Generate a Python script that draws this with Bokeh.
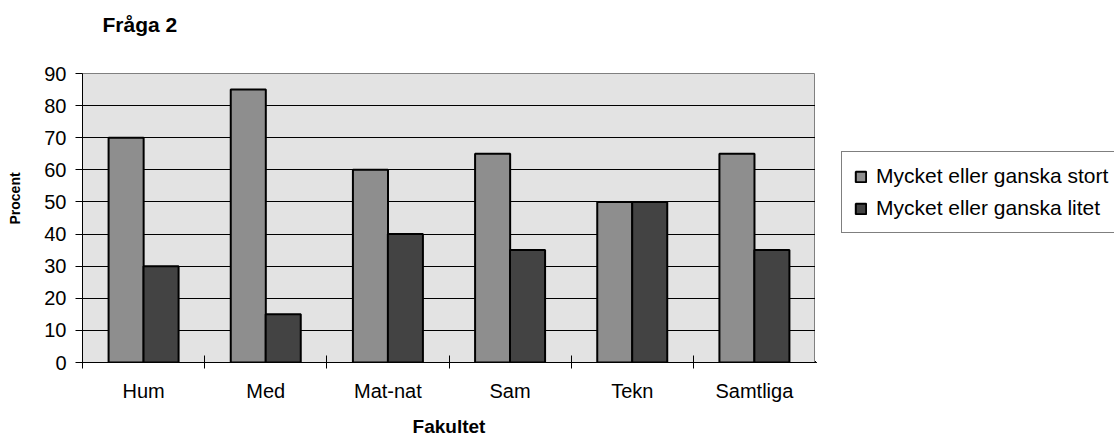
import math
import numpy as np
from bokeh.plotting import figure
from bokeh.layouts import row
from bokeh.models import (Range1d, FixedTicker, Legend, LegendItem, Title, ColumnDataSource)
from bokeh.embed import file_html
from bokeh.resources import INLINE

# ---- data ----
categories = ["Hum", "Med", "Mat-nat", "Sam", "Tekn", "Samtliga"]
stort = [70, 85, 60, 65, 50, 65]
litet = [30, 15, 40, 35, 50, 35]
y_ticks = [0, 10, 20, 30, 40, 50, 60, 70, 80, 90]
series_names = ["Mycket eller ganska stort", "Mycket eller ganska litet"]
series_colors = ["#8e8e8e", "#434343"]
title_text = "Fråga 2"
x_title = "Fakultet"
y_title = "Procent"

FONT = "Liberation Sans"
BAR_W = 0.287
OFF = 0.143

idx = np.arange(len(categories))
src = ColumnDataSource(dict(
    x1=idx + 0.5 - OFF,
    x2=idx + 0.5 + OFF,
    stort=stort,
    litet=litet,
))

p = figure(width=815, height=440, output_backend="svg", toolbar_location=None,
           x_range=Range1d(0, len(categories)), y_range=Range1d(0, 90),
           min_border_left=82, min_border_right=0, min_border_top=73, min_border_bottom=78)

p.background_fill_color = "#e3e3e3"
p.border_fill_color = "white"
p.outline_line_color = "#808080"
p.outline_line_width = 1

r1 = p.vbar(x="x1", top="stort", bottom=0, width=BAR_W, source=src,
            fill_color=series_colors[0], line_color="black", line_width=2)
r2 = p.vbar(x="x2", top="litet", bottom=0, width=BAR_W, source=src,
            fill_color=series_colors[1], line_color="black", line_width=2)

# title (trailing newline lifts the text away from the plot area)
p.title.text = title_text + "\n"
p.title.text_font = FONT
p.title.text_font_size = "21px"
p.title.text_font_style = "bold"
p.title.text_color = "black"
p.title.text_line_height = 1.25
p.title.align = "left"
p.title.offset = 20
p.title.standoff = 18

# x axis
xa = p.xaxis[0]
xa.ticker = FixedTicker(ticks=list(idx + 0.5), minor_ticks=list(range(len(categories) + 1)))
xa.major_label_overrides = {float(i + 0.5): c for i, c in enumerate(categories)}
xa.major_tick_line_color = None
xa.major_tick_in = 0
xa.major_tick_out = 0
xa.minor_tick_line_color = "black"
xa.minor_tick_in = 7
xa.minor_tick_out = 6
xa.axis_line_color = "black"
xa.major_label_text_font = FONT
xa.major_label_text_font_size = "20px"
xa.major_label_text_color = "black"
xa.major_label_standoff = 11
xa.axis_label = x_title
xa.axis_label_text_font = FONT
xa.axis_label_text_font_size = "19px"
xa.axis_label_text_font_style = "bold"
xa.axis_label_text_color = "black"
xa.axis_label_standoff = 11

# y axis
ya = p.yaxis[0]
ya.ticker = FixedTicker(ticks=y_ticks)
ya.minor_tick_line_color = None
ya.major_tick_in = 0
ya.major_tick_out = 7
ya.major_tick_line_color = "black"
ya.axis_line_color = "black"
ya.major_label_text_font = FONT
ya.major_label_text_font_size = "20px"
ya.major_label_text_color = "black"
ya.major_label_standoff = 9

p.xgrid.grid_line_color = None
p.ygrid.ticker = FixedTicker(ticks=y_ticks)
p.ygrid.grid_line_color = "black"
p.ygrid.grid_line_width = 1

# y axis title as a side title, positioned along the axis
ytitle = Title(text=y_title + "\n", align="left", offset=138, standoff=6,
               text_font=FONT, text_font_size="14px", text_font_style="bold",
               text_color="black")
p.add_layout(ytitle, "left")

# legend panel to the right (its frame is aligned with the chart's frame)
q = figure(width=299, height=440, output_backend="svg", toolbar_location=None,
           x_range=Range1d(100, 101), y_range=Range1d(1000, 1090),
           min_border=0, min_border_left=0, min_border_right=0,
           min_border_top=0, min_border_bottom=0)
q.axis.visible = False
q.grid.visible = False
q.outline_line_color = None
q.background_fill_color = "white"
q.border_fill_color = "white"
# proxy renderers for the legend keys (same data, far outside the visible range)
k1 = q.vbar(x="x1", top="stort", bottom=0, width=BAR_W, source=src,
            fill_color=series_colors[0], line_color="black", line_width=2)
k2 = q.vbar(x="x2", top="litet", bottom=0, width=BAR_W, source=src,
            fill_color=series_colors[1], line_color="black", line_width=2)

legend = Legend(items=[LegendItem(label=series_names[0], renderers=[k1]),
                       LegendItem(label=series_names[1], renderers=[k2])],
                location=(26, 129), margin=0, padding=12, spacing=8,
                glyph_width=13, glyph_height=13, label_standoff=9,
                label_text_font=FONT, label_text_font_size="21px",
                label_text_color="black",
                border_line_color="black", border_line_width=1,
                background_fill_color="white", background_fill_alpha=1)
q.add_layout(legend)

layout = row(p, q, spacing=0)
open("out.html", "w").write(file_html(layout, INLINE))
